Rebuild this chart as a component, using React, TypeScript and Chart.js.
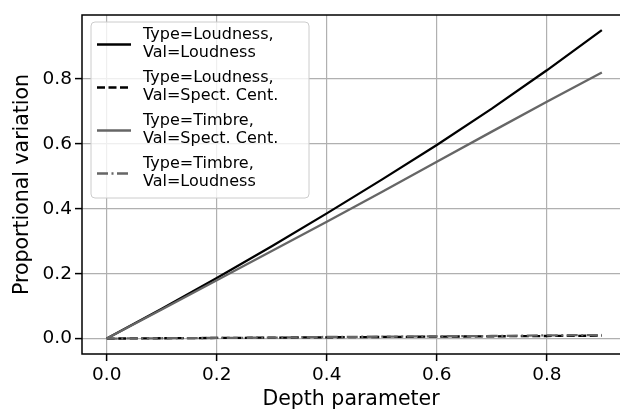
import React, { useEffect, useRef } from "react";
import { Chart, registerables } from "chart.js";

Chart.register(...registerables);

const depth = [0, 0.1, 0.2, 0.3, 0.4, 0.5, 0.6, 0.7, 0.8, 0.9];
const loudLoud = [0, 0.092, 0.187, 0.285, 0.386, 0.49, 0.597, 0.709, 0.827, 0.951];
const loudCent = [0, 0.001, 0.002, 0.003, 0.004, 0.005, 0.006, 0.007, 0.008, 0.009];
const timbreCent = [0, 0.09, 0.18, 0.27, 0.36, 0.452, 0.545, 0.638, 0.73, 0.82];
const timbreLoud = [0, 0.001, 0.002, 0.003, 0.005, 0.006, 0.007, 0.008, 0.01, 0.011];

const xTicks = [0, 0.2, 0.4, 0.6, 0.8];
const yTicks = [0, 0.2, 0.4, 0.6, 0.8];

const legendLines = [
  ["Type=Loudness,", "Val=Loudness"],
  ["Type=Loudness,", "Val=Spect. Cent."],
  ["Type=Timbre,", "Val=Spect. Cent."],
  ["Type=Timbre,", "Val=Loudness"],
];

const FONT = "'DejaVu Sans', sans-serif";

const framePlugin = {
  id: "frame",
  afterDatasetsDraw(chart: any) {
    const { ctx, chartArea } = chart;
    const { left, right, top, bottom } = chartArea;
    ctx.save();
    ctx.strokeStyle = "#000";
    ctx.lineWidth = 1.5;
    ctx.beginPath();
    ctx.moveTo(right + 2, top);
    ctx.lineTo(left, top);
    ctx.lineTo(left, bottom);
    ctx.lineTo(right + 2, bottom);
    ctx.stroke();
    ctx.restore();
  },
};

const legendPlugin = {
  id: "mplLegend",
  afterDraw(chart: any) {
    const { ctx } = chart;
    const bx = 91, by = 22, bw = 218, bh = 176, r = 4;
    ctx.save();
    ctx.beginPath();
    ctx.moveTo(bx + r, by);
    ctx.lineTo(bx + bw - r, by);
    ctx.arcTo(bx + bw, by, bx + bw, by + r, r);
    ctx.lineTo(bx + bw, by + bh - r);
    ctx.arcTo(bx + bw, by + bh, bx + bw - r, by + bh, r);
    ctx.lineTo(bx + r, by + bh);
    ctx.arcTo(bx, by + bh, bx, by + bh - r, r);
    ctx.lineTo(bx, by + r);
    ctx.arcTo(bx, by, bx + r, by, r);
    ctx.closePath();
    ctx.fillStyle = "rgba(255,255,255,0.8)";
    ctx.fill();
    ctx.strokeStyle = "#cccccc";
    ctx.lineWidth = 1;
    ctx.stroke();

    ctx.font = `16px ${FONT}`;
    ctx.textBaseline = "middle";
    ctx.textAlign = "left";
    chart.data.datasets.forEach((ds: any, i: number) => {
      const y1 = 35 + 43 * i;
      const y2 = y1 + 18;
      const ym = (y1 + y2) / 2 + 0.5;
      ctx.save();
      ctx.strokeStyle = ds.borderColor;
      ctx.lineWidth = ds.borderWidth;
      ctx.setLineDash(ds.borderDash || []);
      ctx.beginPath();
      ctx.moveTo(97, ym);
      ctx.lineTo(131, ym);
      ctx.stroke();
      ctx.restore();
      ctx.fillStyle = "#000";
      const lines = legendLines[i];
      ctx.fillText(lines[0], 143, y1);
      ctx.fillText(lines[1], 143, y2);
    });
    ctx.restore();
  },
};

export default function App() {
  const ref = useRef<HTMLCanvasElement>(null);
  useEffect(() => {
    document.body.style.margin = "0";
    const mk = (ys: number[]) => depth.map((x, i) => ({ x, y: ys[i] }));
    const chart = new Chart(ref.current!, {
      type: "line",
      data: {
        datasets: [
          { label: legendLines[0].join(" "), data: mk(loudLoud), borderColor: "#000000", borderWidth: 2.3, pointRadius: 0, order: 3 },
          { label: legendLines[1].join(" "), data: mk(loudCent), borderColor: "#000000", borderWidth: 2.3, borderDash: [8, 3.5], pointRadius: 0, order: 2 },
          { label: legendLines[2].join(" "), data: mk(timbreCent), borderColor: "#666666", borderWidth: 2.3, pointRadius: 0, order: 1 },
          { label: legendLines[3].join(" "), data: mk(timbreLoud), borderColor: "#666666", borderWidth: 2.3, borderDash: [11, 3.5, 2, 3.5], pointRadius: 0, order: 0 },
        ],
      },
      options: {
        animation: false,
        responsive: false,
        maintainAspectRatio: false,
        layout: { padding: { top: 15, right: 0, left: 0, bottom: 0 } },
        plugins: { legend: { display: false }, tooltip: { enabled: false } },
        elements: { line: { tension: 0 } },
        scales: {
          x: {
            type: "linear",
            min: -0.045,
            max: 0.933,
            afterBuildTicks: (s: any) => { s.ticks = xTicks.map((v) => ({ value: v })); },
            afterFit: (s: any) => { s.height = 56; },
            grid: { color: "#b0b0b0", lineWidth: 1.2, drawTicks: true, tickLength: 7, tickColor: "#000", tickWidth: 1.5 },
            border: { display: false },
            ticks: { font: { family: FONT, size: 18.5 }, color: "#000", padding: 3, maxRotation: 0, callback: (v: any) => Number(v).toFixed(1) },
            title: { display: true, text: "Depth parameter", font: { family: FONT, size: 20.5, lineHeight: 1 }, color: "#000", padding: { top: 0, bottom: 0 } },
          },
          y: {
            type: "linear",
            min: -0.0475,
            max: 0.9975,
            afterBuildTicks: (s: any) => { s.ticks = yTicks.map((v) => ({ value: v })); },
            afterFit: (s: any) => { s.width = 82; },
            grid: { color: "#b0b0b0", lineWidth: 1.2, drawTicks: true, tickLength: 7, tickColor: "#000", tickWidth: 1.5 },
            border: { display: false },
            ticks: { font: { family: FONT, size: 18.5 }, color: "#000", padding: 3, callback: (v: any) => Number(v).toFixed(1) },
            title: { display: true, text: "Proportional variation", font: { family: FONT, size: 20.5, lineHeight: 1 }, color: "#000", padding: { top: 12, bottom: 0 } },
          },
        },
      },
      plugins: [framePlugin, legendPlugin],
    } as any);
    return () => chart.destroy();
  }, []);
  return (
    <div style={{ width: 620, height: 410 }}>
      <canvas ref={ref} width={620} height={410} style={{ display: "block", width: 620, height: 410 }} />
    </div>
  );
}
